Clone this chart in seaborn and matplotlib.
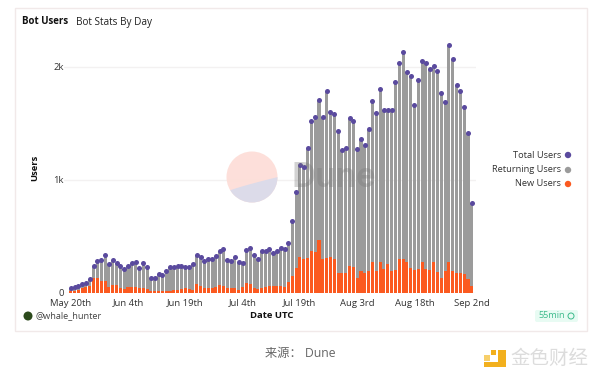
import numpy as np
import pandas as pd
import matplotlib
matplotlib.use('Agg')
import matplotlib.pyplot as plt
from matplotlib.patches import Circle, FancyBboxPatch, Polygon, Rectangle
import seaborn as sns

# values
tick_days = [0, 15, 30, 45, 60, 75, 90, 105]
tick_labels = ['May 20th', 'Jun 4th', 'Jun 19th', 'Jul 4th', 'Jul 19th', 'Aug 3rd', 'Aug 18th', 'Sep 2nd']
total_users = [42, 52, 65, 80, 86, 127, 236, 284, 295, 333, 254, 290, 266, 236, 216, 242,
               266, 275, 224, 263, 233, 130, 136, 172, 160, 196, 227, 230, 239, 242,
               233, 227, 257, 333, 315, 280, 298, 298, 327, 372, 386, 295, 286, 318, 277,
               266, 380, 398, 333, 301, 368, 368, 386, 350, 372, 398, 390, 440, 640,
               890, 1135, 1111, 1283, 1525, 1558, 1710, 1555, 1785, 1605, 1587, 1437, 1268,
               1280, 1546, 1519, 1271, 1365, 1310, 1454, 1696, 1593, 1806, 1617, 1617, 1617,
               1870, 2036, 2133, 1958, 1921, 1667, 1882, 2056, 2032, 1982, 2009, 1964, 1767,
               1693, 2191, 2073, 1843, 1791, 1649, 1420, 794]
new_users = [15, 20, 30, 40, 50, 65, 133, 136, 103, 106, 56, 74, 68, 47, 38, 50,
             53, 53, 42, 47, 33, 18, 15, 20, 18, 22, 20, 25, 25, 35,
             41, 35, 25, 77, 62, 40, 40, 45, 50, 74, 60, 45, 45, 42, 30,
             55, 86, 83, 45, 35, 40, 50, 62, 65, 60, 58, 55, 98, 149,
             223, 321, 298, 306, 375, 360, 473, 298, 312, 321, 298, 173, 173,
             173, 238, 232, 136, 196, 178, 196, 270, 196, 270, 214, 260, 196,
             202, 298, 298, 276, 225, 202, 214, 270, 214, 202, 270, 187, 136,
             196, 276, 196, 173, 178, 166, 128, 60]
series_names = ['Total Users', 'Returning Users', 'New Users']
series_colors = ['#5a4a9e', '#9b9b9b', '#fb5a20']

days = np.arange(len(total_users))
df = pd.DataFrame({'day': days, 'total': total_users, 'new': new_users})

W, H = 600, 380
plt.rcParams['font.family'] = ['Open Sans', 'Noto Sans CJK SC', 'DejaVu Sans']
fig = plt.figure(figsize=(W / 100, H / 100), dpi=100, facecolor='white')

# page layer in pixel coordinates
bg = fig.add_axes([0, 0, 1, 1], zorder=0)
bg.set_xlim(0, W)
bg.set_ylim(H, 0)
bg.axis('off')
bg.add_patch(Rectangle((15, 8), 572, 323, fc='white', ec='#f1e9e9', lw=1))

# chart axes
left, right, top, bottom = 64, 476, 30, 293
ax = fig.add_axes([left / W, 1 - bottom / H, (right - left) / W, (bottom - top) / H], zorder=1)
ax.patch.set_alpha(0)
sns.barplot(data=df, x='day', y='total', color=series_colors[1], saturation=1, width=0.8, ax=ax, zorder=2)
sns.barplot(data=df, x='day', y='new', color=series_colors[2], saturation=1, width=0.8, ax=ax, zorder=3)
sns.scatterplot(data=df, x='day', y='total', color=series_colors[0], s=13, linewidth=0, ax=ax, zorder=4)
ax.set_xlim(-1.75, 106.1)
ax.set_ylim(0, 2327)
ax.set_yticks([0, 1000, 2000], ['0', '1k', '2k'])
ax.set_xticks(tick_days, tick_labels)
ax.yaxis.grid(True, color='#f3f1f1', lw=1)
ax.set_axisbelow(True)
ax.tick_params(length=0, labelsize=6.8, colors='#333333', pad=4)
ax.tick_params(axis='y', pad=0)
sns.despine(ax=ax, left=True, bottom=True)
ax.set_xlabel('')
ax.set_ylabel('')

# watermark and other text on top
fg = fig.add_axes([0, 0, 1, 1], zorder=2)
fg.set_xlim(0, W)
fg.set_ylim(H, 0)
fg.axis('off')
disc = Circle((252, 177), 25.5, fc='#fdded8', ec='none', alpha=0.95)
fg.add_patch(disc)
curve_x = np.linspace(226, 278, 30)
curve_y = 192 - 15 * ((curve_x - 226) / 52) ** 0.85
low = Polygon(list(zip(curve_x, curve_y)) + [(278, 204), (226, 204)], fc='#dcdbe9', ec='none')
fg.add_patch(low)
low.set_clip_path(disc)
fg.text(292, 178, 'Dune', fontsize=24, fontweight='semibold', color='#777777', alpha=0.33, va='center', family='Inter')

fg.text(22, 22, 'Bot Users', fontsize=7, fontweight='bold', color='#111111', va='center')
fg.text(76, 22, 'Bot Stats By Day', fontsize=7.2, color='#222222', va='center')
fg.text(35, 168, 'Users', fontsize=6.8, fontweight='bold', color='#111111', rotation=90, ha='center', va='center')
fg.text(272, 316, 'Date UTC', fontsize=6.8, fontweight='bold', color='#111111', ha='center', va='center')

for y, name, color in zip([155, 170, 184], series_names, series_colors):
    fg.text(561, y, name, fontsize=6.7, color='#333333', ha='right', va='center')
    fg.add_patch(Circle((568, y), 3.2, fc=color, ec='none'))

fg.add_patch(Circle((28, 316), 4.5, fc='#2c4a1c', ec='none'))
fg.text(36, 316, '@whale_hunter', fontsize=6.6, color='#444444', va='center')
fg.add_patch(FancyBboxPatch((535, 310), 43, 12, boxstyle='round,pad=0,rounding_size=2', fc='#e8fbf3', ec='none'))
fg.text(538, 316, '55min', fontsize=6.6, color='#3dbb8c', va='center')
fg.add_patch(Circle((571, 316), 3.0, fc='none', ec='#3dbb8c', lw=0.7))

fg.text(300, 353, '来源： Dune', fontsize=8.8, color='#666666', ha='center', va='center')

# site mark
fg.add_patch(Rectangle((498, 350), 8, 17, fc='#f2b01e', ec='none'))
fg.add_patch(Rectangle((484, 362), 22, 5, fc='#f2b01e', ec='none'))
fg.add_patch(Rectangle((484, 355), 6, 6, fc='#f7cf6a', ec='none'))
fg.add_patch(Rectangle((491, 350), 5, 5, fc='#f2b01e', ec='none'))
fg.text(510, 358, '金色财经', fontsize=14, color='#dcdcdc', va='center', family=['Noto Sans CJK SC'])

fig.savefig('out.png', dpi=100)
